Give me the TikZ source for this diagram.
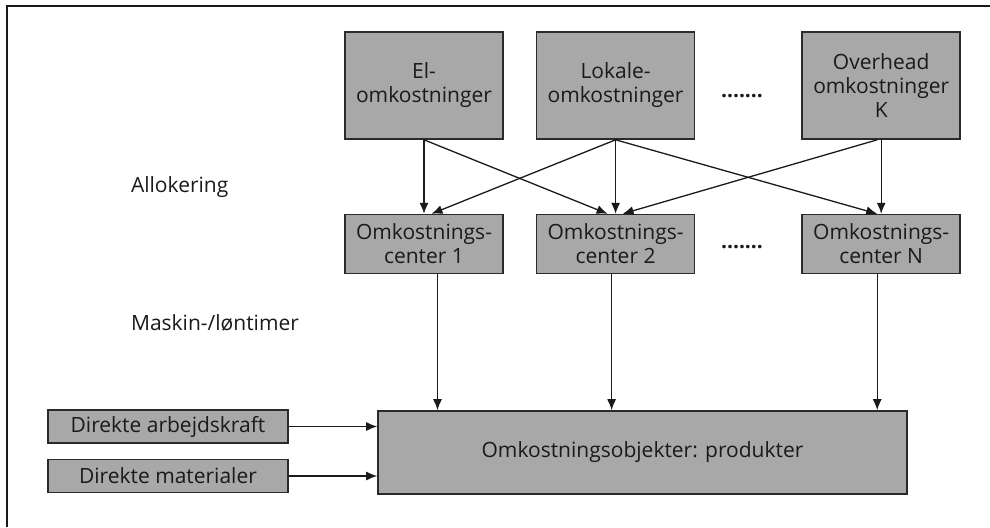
\documentclass[tikz,border=0pt]{standalone}
\usepackage{fontspec}
\setmainfont{Open Sans}
\usetikzlibrary{arrows.meta,positioning}
\definecolor{box-fill}{HTML}{A8A8A8}
\definecolor{box-line}{HTML}{2A2A2A}
\definecolor{ink}{HTML}{1A1A1A}
\tikzset{
  costbox/.style={
    rectangle, draw=box-line, fill=box-fill, line width=0.8pt,
    minimum width=79pt, inner sep=0pt, align=center,
    text=ink, font=\fontsize{10.5}{12}\selectfont
  },
  sidelabel/.style={
    anchor=west, text=ink, font=\fontsize{10.5}{12}\selectfont
  },
  dotrow/.style={
    text=ink, font=\fontsize{10.5}{12}\selectfont\bfseries
  },
}

\begin{document}
\begin{tikzpicture}[
  x=0.5pt, y=-0.5pt,
  arr/.style={-{Latex[length=5.5pt,width=4.5pt]}, line width=0.65pt, draw=ink},
  node distance=37pt and 16pt
]
  \useasboundingbox (0,0) rectangle (990,527);
  % open frame, top and left only
  \draw[line width=1pt, ink] (7,527) -- (7,6) -- (990,6);

  % cost pools
  \node[costbox, minimum height=53.5pt] (el) at (424,85.5) {El-\\omkostninger};
  \node[costbox, minimum height=53.5pt, right=of el] (lokale) {Lokale-\\omkostninger};
  \node[costbox, minimum height=53.5pt, right=53pt of lokale] (overhead) {Overhead\\omkostninger\\K};
  \node[dotrow] (dotstop) at (742,96) {.......};

  % cost centres
  \node[costbox, minimum height=29.5pt, below=of el] (ctr1) {Omkostnings-\\center 1};
  \node[costbox, minimum height=29.5pt, below=of lokale] (ctr2) {Omkostnings-\\center 2};
  \node[costbox, minimum height=29.5pt, below=of overhead] (ctrN) {Omkostnings-\\center N};
  \node[dotrow] (dotsmid) at (742,247) {.......};

  \node[sidelabel] (alloc) at (124,187) {Allokering};
  \node[sidelabel] (hours) at (124,323) {Maskin-/løntimer};

  % cost objects
  \node[costbox, minimum width=264.5pt, minimum height=41.5pt] (prod) at (642.5,452.5) {Omkostningsobjekter: produkter};
  \node[costbox, minimum width=120pt, minimum height=16.5pt] (arb) at (168,426.5) {Direkte arbejdskraft};
  \node[costbox, minimum width=120pt, minimum height=16.5pt] (mat) at (168,476) {Direkte materialer};

  % allocation
  \draw[arr] (el.south) -- (ctr1.north);
  \draw[arr] (el.south) -- ([xshift=-4pt]ctr2.north);
  \draw[arr] (lokale.south) -- ([xshift=3.75pt]ctr1.north);
  \draw[arr] (lokale.south) -- (ctr2.north);
  \draw[arr] (lokale.south) -- ([xshift=-2pt]ctrN.north);
  \draw[arr] ([xshift=-2pt]overhead.south) -- ([xshift=3.5pt]ctr2.north);
  \draw[arr] (overhead.south) -- (ctrN.north);

  % machine / labour hours
  \draw[arr] ([xshift=6.75pt]ctr1.south) -- ([xshift=6.75pt]ctr1.south |- prod.north);
  \draw[arr] ([xshift=-2pt]ctr2.south) -- ([xshift=-2pt]ctr2.south |- prod.north);
  \draw[arr] ([xshift=-2pt]ctrN.south) -- ([xshift=-2pt]ctrN.south |- prod.north);

  \draw[arr] (arb.east) -- (arb.east -| prod.west);
  \draw[arr] (mat.east) -- (mat.east -| prod.west);
\end{tikzpicture}
\end{document}
